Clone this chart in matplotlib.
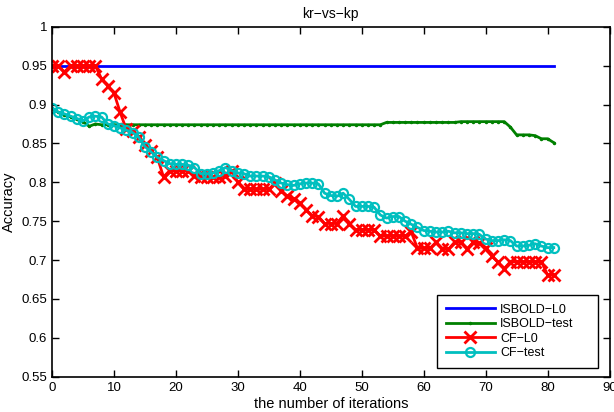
import matplotlib
matplotlib.use('Agg')
import matplotlib.pyplot as plt
import numpy as np
from matplotlib.ticker import FuncFormatter

plt.rcParams['font.family'] = ['Liberation Sans', 'DejaVu Sans']

iterations = list(range(82))

isbold_l0 = [0.95] * 82

isbold_test = [0.895, 0.890, 0.887, 0.884, 0.881, 0.878, 0.872, 0.875] + [0.874] * 46 \
    + [0.877] * 12 + [0.878] * 8 \
    + [0.871, 0.861, 0.861, 0.861, 0.860, 0.856, 0.856, 0.851]

cf_l0 = [0.950, 0.950, 0.942, 0.950, 0.950, 0.950, 0.950, 0.950, 0.933, 0.924,
         0.915, 0.890, 0.868, 0.866, 0.858, 0.848, 0.840, 0.832, 0.807, 0.815,
         0.815, 0.815, 0.815, 0.808, 0.807, 0.807, 0.807, 0.807, 0.808, 0.815,
         0.800, 0.791, 0.791, 0.791, 0.791, 0.791, 0.799, 0.789, 0.782, 0.779,
         0.773, 0.765, 0.757, 0.756, 0.747, 0.747, 0.747, 0.757, 0.746, 0.739,
         0.739, 0.739, 0.739, 0.731, 0.731, 0.731, 0.731, 0.731, 0.736, 0.715,
         0.715, 0.715, 0.723, 0.714, 0.714, 0.723, 0.723, 0.714, 0.723, 0.722,
         0.715, 0.705, 0.697, 0.689, 0.698, 0.698, 0.698, 0.698, 0.698, 0.698,
         0.681, 0.681]

cf_test = [0.896, 0.890, 0.888, 0.885, 0.882, 0.879, 0.884, 0.885, 0.884, 0.875,
           0.873, 0.870, 0.867, 0.864, 0.858, 0.846, 0.839, 0.832, 0.828, 0.824,
           0.823, 0.823, 0.822, 0.819, 0.811, 0.811, 0.812, 0.815, 0.819, 0.815,
           0.812, 0.811, 0.808, 0.808, 0.808, 0.807, 0.803, 0.799, 0.797, 0.796,
           0.798, 0.799, 0.799, 0.798, 0.786, 0.783, 0.782, 0.786, 0.778, 0.769,
           0.769, 0.769, 0.768, 0.758, 0.754, 0.756, 0.756, 0.750, 0.746, 0.742,
           0.738, 0.737, 0.736, 0.736, 0.737, 0.735, 0.735, 0.734, 0.734, 0.733,
           0.727, 0.725, 0.725, 0.726, 0.725, 0.718, 0.718, 0.719, 0.721, 0.718,
           0.716, 0.716]

M = '\u2212'
labels = ['ISBOLD' + M + 'L0', 'ISBOLD' + M + 'test', 'CF' + M + 'L0', 'CF' + M + 'test']

fig = plt.figure(figsize=(6.14, 4.12), dpi=100)
ax = fig.add_axes([0.0847, 0.0857, 0.9080, 0.8493])

ax.plot(iterations, isbold_l0, color='#0000ff', lw=2, label=labels[0])
ax.plot(iterations, isbold_test, color='#008000', lw=2, marker='.', ms=3, label=labels[1])
ax.plot(iterations, cf_l0, color='#ff0000', lw=2, marker='x', ms=8, mew=2, label=labels[2])
ax.plot(iterations, cf_test, color='#00bfbf', lw=2, marker='o', ms=6.5, mew=1.6,
        mfc='none', label=labels[3])

ax.set_xlim(0, 90)
ax.set_ylim(0.55, 1.0)
ax.set_xticks(np.arange(0, 91, 10))
ax.set_yticks(np.arange(0.55, 1.001, 0.05))
ax.yaxis.set_major_formatter(FuncFormatter(lambda v, p: '%g' % round(v, 2)))
ax.tick_params(direction='in', top=True, right=True, labelsize=9.5, length=5, width=1)
for s in ax.spines.values():
    s.set_linewidth(1.2)

ax.set_title('kr' + M + 'vs' + M + 'kp', fontsize=10)
ax.set_xlabel('the number of iterations', fontsize=10.5, labelpad=2.5)
ax.set_ylabel('Accuracy', fontsize=10.5)

# MATLAB-style legend box: wider on the right than the entries need
leg = ax.legend(loc='lower left', bbox_to_anchor=(0.6908, 0.0249, 0.2886, 0.3),
                mode='expand', fontsize=9, fancybox=False, framealpha=1,
                edgecolor='black', borderaxespad=0, handlelength=3.9,
                labelspacing=0.2, borderpad=0.7, handletextpad=0.45)
leg.get_frame().set_linewidth(1)

fig.savefig('out.png', dpi=100)
